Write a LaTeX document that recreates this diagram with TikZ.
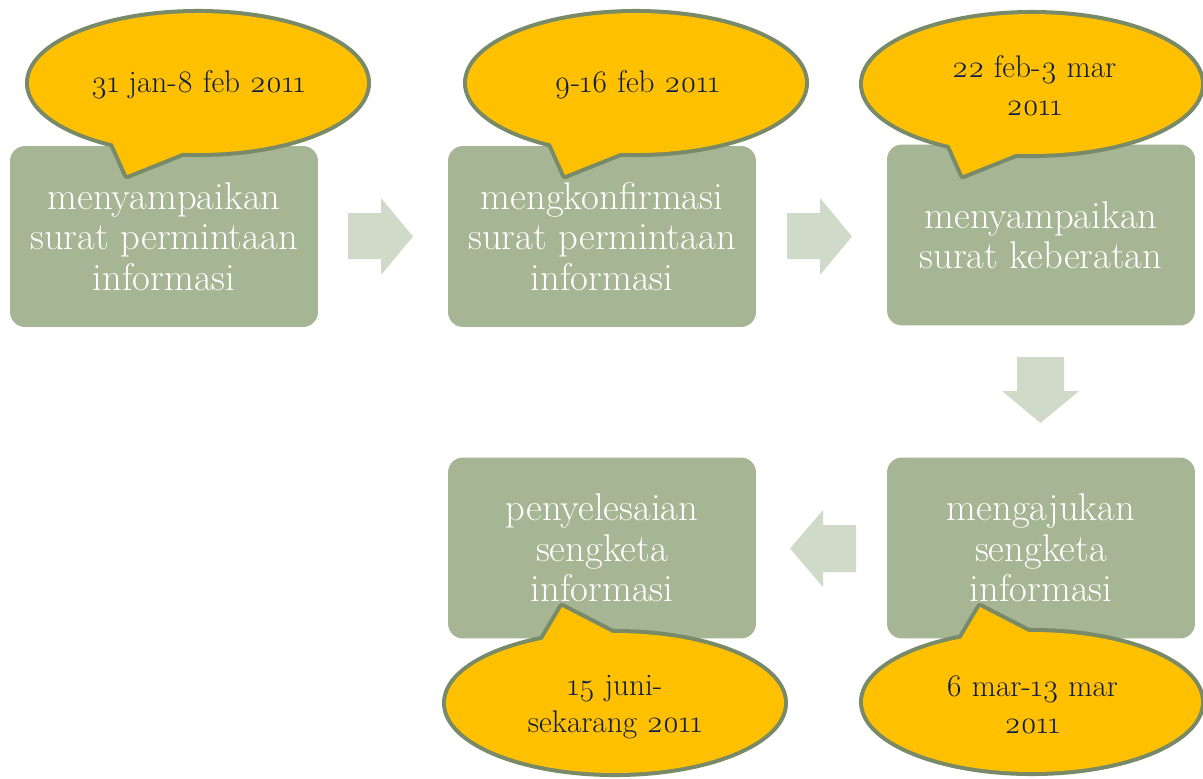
\documentclass[tikz,border=0pt]{standalone}
\usepackage{fontspec}
\setmainfont{Latin Modern Roman}[Numbers=OldStyle]
\usetikzlibrary{shapes.geometric}
\definecolor{boxgreen}{HTML}{A6B593}
\definecolor{arrowgreen}{HTML}{D0DAC8}
\definecolor{bubbleyellow}{HTML}{FFC000}
\definecolor{bubbleline}{HTML}{788A68}
\definecolor{navy}{HTML}{0C1C4C}
\newcommand\speechbubble[7]{%
  \begin{scope}[shift={(#1)}]
    \draw[bubbleedge] (0,0) ellipse [x radius=3.38cm, y radius=1.40cm];
    \draw[bubbleedge] (#4,#5) -- (#2,#3) -- (#6,#7) -- cycle;
    \fill[bubblefill] (0,0) ellipse [x radius=3.38cm, y radius=1.40cm];
    \fill[bubblefill] (#4,#5) -- (#2,#3) -- (#6,#7) -- cycle;
  \end{scope}}
\begin{document}
\begin{tikzpicture}[x=0.02cm,y=-0.02cm,
  stepbox/.style={rectangle, rounded corners=0.3cm, fill=boxgreen,
    minimum width=6.16cm, minimum height=3.62cm, text=white, align=center,
    font=\fontsize{22}{23}\selectfont, inner sep=0pt},
  blockarrow/.style={fill=arrowgreen},
  bubbletext/.style={text=navy, align=center, font=\fontsize{17.8}{21.5}\selectfont, inner sep=0pt},
  bubbleedge/.style={draw=bubbleline, line width=4.6pt, line join=round},
  bubblefill/.style={fill=bubbleyellow},
]
\useasboundingbox (0,0) rectangle (1203,778);

% boxes
\node[stepbox] (s1) at (164,236.5) {menyampaikan\\surat permintaan\\informasi};
\node[stepbox] (s2) at (602,236.5) {mengkonfirmasi\\surat permintaan\\informasi};
\node[stepbox] (s3) at (1041,235) {menyampaikan\\surat keberatan};
\node[stepbox] (s4) at (1041,548) {mengajukan\\sengketa\\informasi};
\node[stepbox] (s5) at (602,548) {penyelesaian\\sengketa\\informasi};

% block arrows
\fill[blockarrow] (348,213) -- (381,213) -- (381,198) -- (413,236.5) -- (381,275) -- (381,259) -- (348,259) -- cycle;
\fill[blockarrow] (787,213) -- (820,213) -- (820,198) -- (852,236.5) -- (820,275) -- (820,259) -- (787,259) -- cycle;
\fill[blockarrow] (1017,357) -- (1064,357) -- (1064,391) -- (1079,391) -- (1040.5,423) -- (1002,391) -- (1017,391) -- cycle;
\fill[blockarrow] (856,525) -- (823,525) -- (823,510) -- (790,548.5) -- (823,587) -- (823,572) -- (856,572) -- cycle;

% bubble centres
\coordinate (c1) at (198,83);
\coordinate (c2) at (636,83);
\coordinate (c3) at (1032,84);
\coordinate (c4) at (1032,702);
\coordinate (c5) at (615,703);

\speechbubble{c1}{-71}{92}{-89}{52}{4}{62}
\speechbubble{c2}{-71}{92}{-89}{52}{4}{62}
\speechbubble{c3}{-69}{91}{-87}{51}{6}{61}
\speechbubble{c4}{-52}{-95}{-77}{-53}{16}{-60}
\speechbubble{c5}{-53}{-96}{-78}{-54}{15}{-61}

\node[bubbletext] (t1) at (198,85) {31 jan-8 feb 2011};
\node[bubbletext] (t2) at (637,85) {9-16 feb 2011};
\node[bubbletext] (t3) at (1034,86) {22 feb-3 mar\\2011};
\node[bubbletext] (t4) at (1032,705) {6 mar-13 mar\\2011};
\node[bubbletext] (t5) at (615,707) {15 juni-\\sekarang 2011};
\end{tikzpicture}
\end{document}
